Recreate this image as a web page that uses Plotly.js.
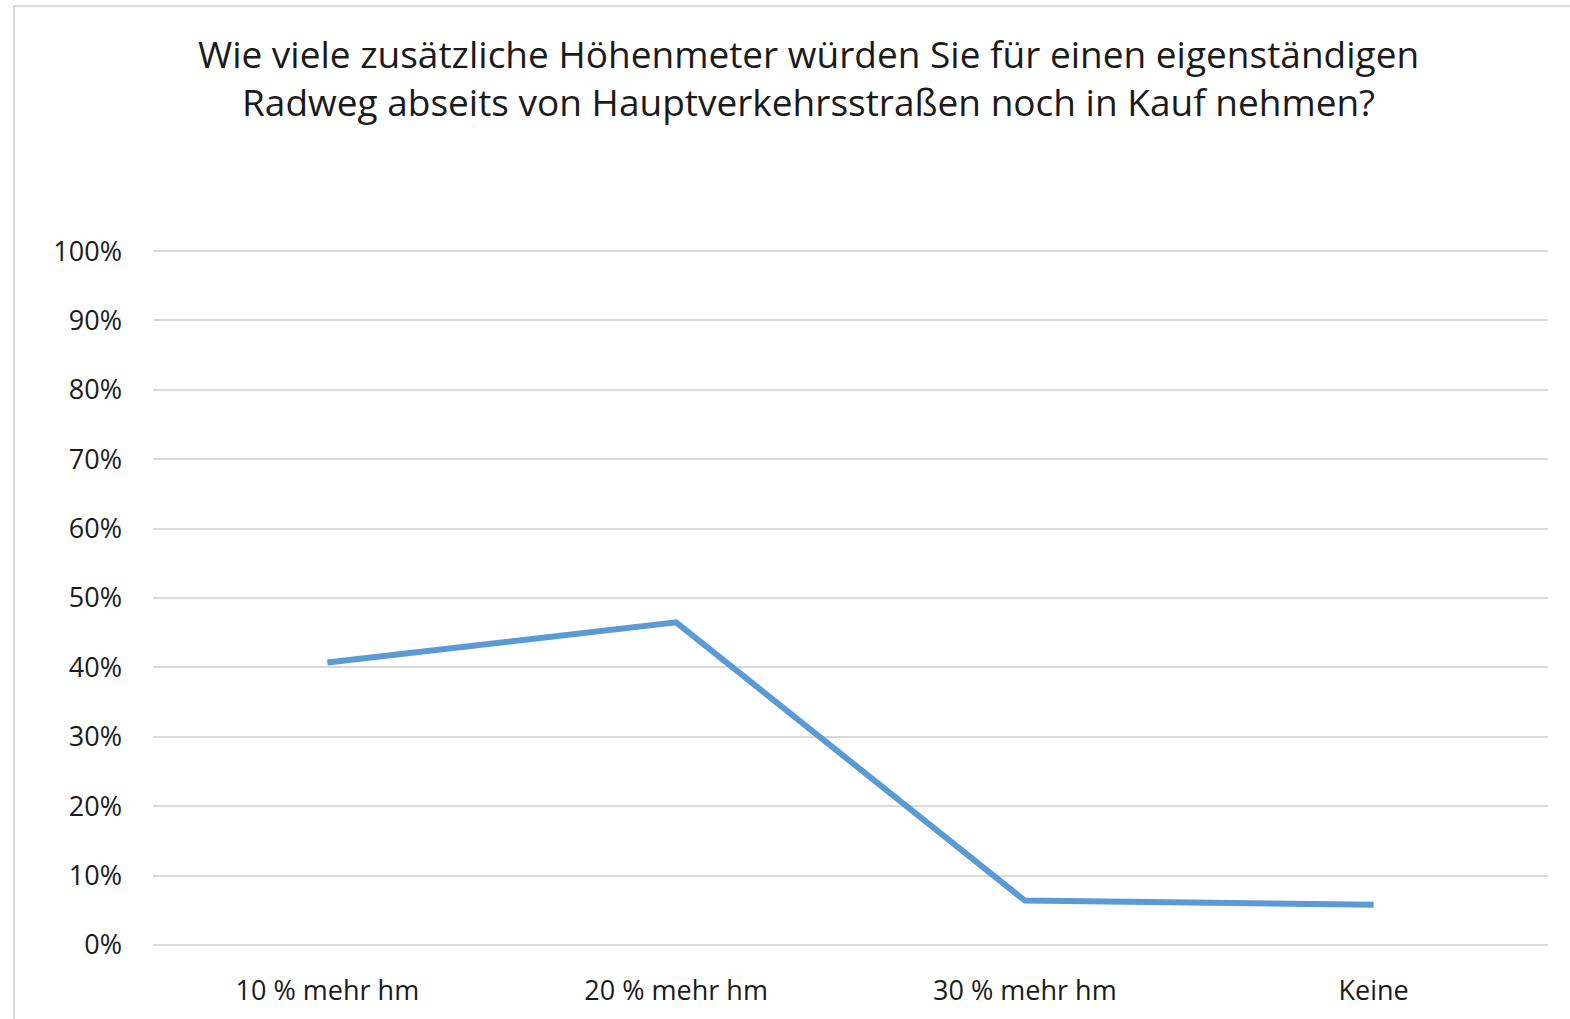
<!DOCTYPE html>
<html>
<head>
<meta charset="utf-8">
<script src="https://cdn.plot.ly/plotly-3.0.1.min.js"></script>
<style>
html,body{margin:0;padding:0;background:#fff;overflow:hidden;}
#frame{position:absolute;left:13px;top:5px;width:1600px;height:1100px;border:2px solid #d9d9d9;box-sizing:border-box;}
#chart{position:absolute;left:0;top:0;width:1570px;height:1019px;}
</style>
</head>
<body>
<div id="frame"></div>
<div id="chart"></div>
<script>
var categories = ["10 % mehr hm", "20 % mehr hm", "30 % mehr hm", "Keine"];
var shares = [0.407, 0.465, 0.064, 0.058];
var yTickValues = [0, 0.1, 0.2, 0.3, 0.4, 0.5, 0.6, 0.7, 0.8, 0.9, 1.0];
var yTickLabels = ["0%", "10%", "20%", "30%", "40%", "50%", "60%", "70%", "80%", "90%", "100%"];
var titleText = "Wie viele zusätzliche Höhenmeter würden Sie für einen eigenständigen<br>Radweg abseits von Hauptverkehrsstraßen noch in Kauf nehmen?";

var font = "Open Sans, Noto Sans, sans-serif";

var trace = {
  x: categories,
  y: shares,
  type: "scatter",
  mode: "lines",
  line: {color: "#5b9bd5", width: 6},
  hoverinfo: "x+y"
};

var layout = {
  width: 1570,
  height: 1019,
  paper_bgcolor: "rgba(0,0,0,0)",
  plot_bgcolor: "rgba(0,0,0,0)",
  margin: {l: 153, r: 22, t: 249, b: 74},
  showlegend: false,
  title: {
    text: titleText,
    x: 0.515,
    xanchor: "center",
    y: 0.933,
    yanchor: "middle",
    font: {family: font, size: 37, color: "#1a1a1a"}
  },
  xaxis: {
    type: "category",
    range: [-0.5, 3.5],
    showgrid: false,
    zeroline: false,
    showline: false,
    ticks: "",
    ticklabelstandoff: 27,
    tickfont: {family: font, size: 27, color: "#1a1a1a"}
  },
  yaxis: {
    range: [0, 1.003],
    tickvals: yTickValues,
    ticktext: yTickLabels,
    showgrid: true,
    gridcolor: "#d9d9d9",
    gridwidth: 2,
    zeroline: true,
    zerolinecolor: "#d9d9d9",
    zerolinewidth: 2,
    showline: false,
    ticks: "",
    ticklabelstandoff: 30,
    tickfont: {family: font, size: 27, color: "#1a1a1a"}
  }
};

Plotly.newPlot("chart", [trace], layout, {displayModeBar: false});
</script>
</body>
</html>
